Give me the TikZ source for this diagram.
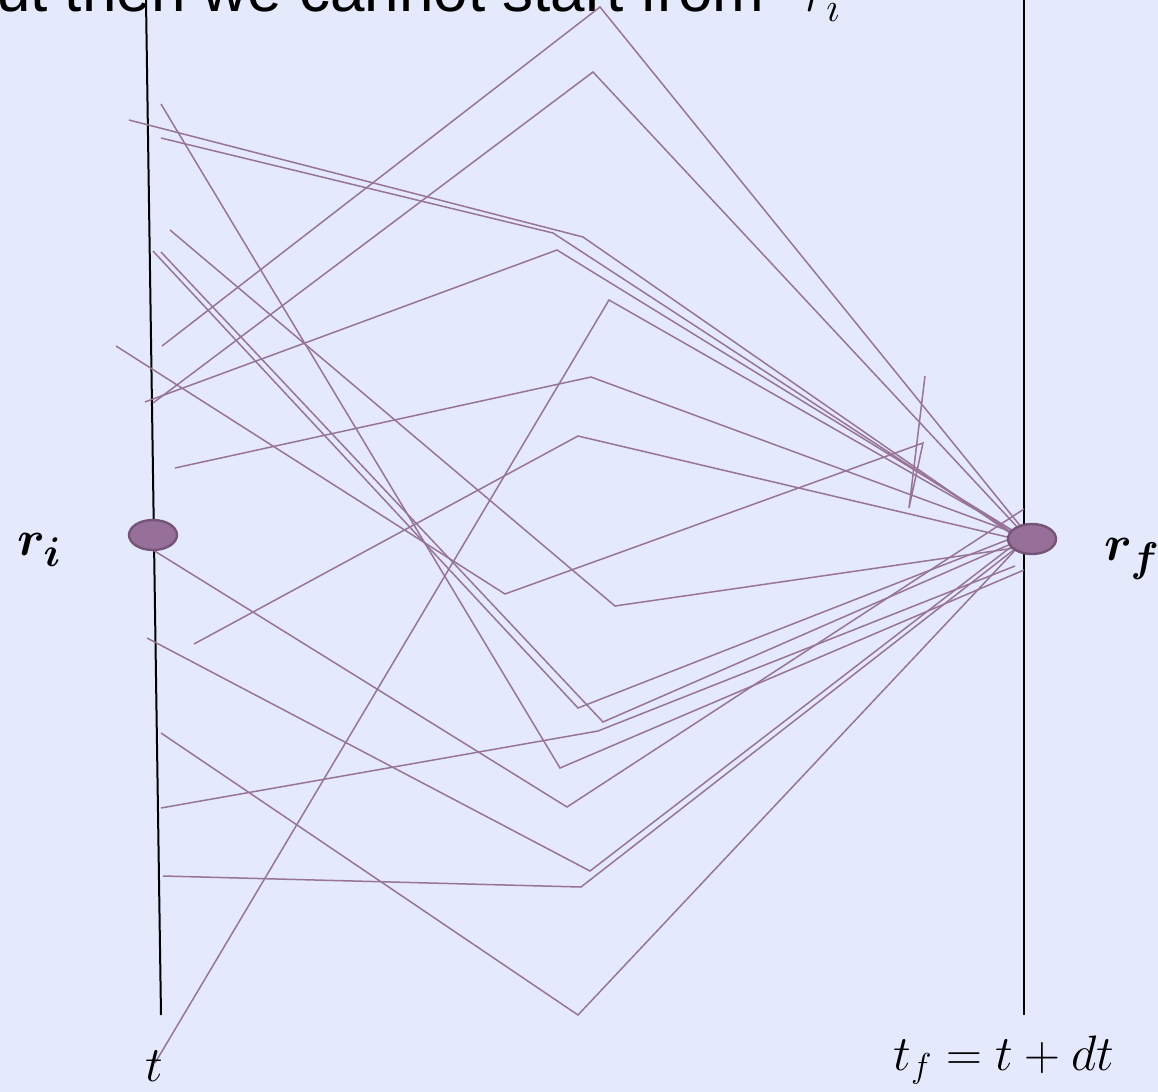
\documentclass[tikz,border=0pt]{standalone}
\usepackage{fontspec}
\usepackage{bm}
\newfontfamily\arialf{Liberation Sans}
\usetikzlibrary{shapes.geometric}
\definecolor{bgc}{RGB}{228,233,252}
\definecolor{pathc}{RGB}{152,116,152}
\definecolor{dotfill}{RGB}{150,112,152}
\definecolor{dotline}{RGB}{118,84,120}
\begin{document}
\begin{tikzpicture}[x=0.5pt,y=-0.5pt,
  pathline/.style={draw=pathc,line width=0.75pt},
  axisline/.style={draw=black,line width=1pt},
  dot/.style={ellipse,draw=dotline,fill=dotfill,line width=1.2pt,minimum width=24pt,minimum height=15pt,inner sep=0pt},
  lbl/.style={inner sep=0pt}]
\useasboundingbox (0,0) rectangle (1158,1092);
\clip (0,0) rectangle (1158,1092);
\fill[bgc] (0,0) rectangle (1158,1092);
% heading (cut off at the top, as in the reference)
\node[lbl,anchor=base east,font=\arialf\fontsize{31}{31}\selectfont] (head) at (765,11) {But then we cannot start from};
\node[lbl,anchor=base west,font=\fontsize{31}{31}\selectfont] (headr) at (804,11) {$r_i$};
% time axes
\coordinate (LT) at (146,0); \coordinate (LB) at (161,1015);
\coordinate (RT) at (1024,0); \coordinate (RB) at (1024,1015);
\draw[axisline] (LT) -- (LB);
\draw[axisline] (RT) -- (RB);
% paths
\coordinate (s1) at (162,346); \coordinate (m1) at (600,7); \coordinate (e1) at (1022,528);
\coordinate (s2) at (153,403); \coordinate (m2) at (593,72); \coordinate (e2) at (1020,530);
\coordinate (s3) at (145,402); \coordinate (m3) at (557,250); \coordinate (e3) at (1020,535);
\coordinate (s4) at (129,120); \coordinate (m4) at (583,237); \coordinate (e4) at (1020,540);
\coordinate (s5) at (161,138); \coordinate (m5) at (553,233); \coordinate (e5) at (1020,538);
\coordinate (s6) at (161,104); \coordinate (m6) at (560,768); \coordinate (e6) at (1024,570);
\coordinate (s7) at (170,230); \coordinate (m7) at (615,606); \coordinate (e7) at (1015,548);
\coordinate (s8) at (153,251); \coordinate (m8) at (578,708); \coordinate (e8) at (1020,535);
\coordinate (s9) at (161,252); \coordinate (m9) at (603,722); \coordinate (e9) at (1020,540);
\coordinate (s10) at (116,346); \coordinate (m10) at (505,594); \coordinate (k10) at (923,443); \coordinate (j10) at (909,508); \coordinate (e10) at (925,376);
\coordinate (s11) at (175,468); \coordinate (m11) at (591,377); \coordinate (e11) at (1020,535);
\coordinate (s12) at (194,644); \coordinate (m12) at (578,436); \coordinate (e12) at (1020,540);
\coordinate (s13) at (153,550); \coordinate (m13) at (567,807); \coordinate (e13) at (1024,509);
\coordinate (s14) at (147,638); \coordinate (m14) at (590,871); \coordinate (e14) at (1020,540);
\coordinate (s15) at (161,733); \coordinate (m15) at (578,1015); \coordinate (e15) at (1020,545);
\coordinate (s16) at (161,808); \coordinate (m16) at (598,731); \coordinate (e16) at (1015,566);
\coordinate (s17) at (163,876); \coordinate (m17) at (581,887); \coordinate (e17) at (1020,545);
\coordinate (s18) at (155,1063); \coordinate (m18) at (609,300); \coordinate (e18) at (1020,535);
\foreach \k in {1,2,3,4,5,6,7,8,9,11,12,13,14,15,16,17,18}{
  \draw[pathline] (s\k) -- (m\k) -- (e\k);
}
\draw[pathline] (s10) -- (m10) -- (k10) -- (j10) -- (e10);
% end points
\node[dot] (dri) at (153,535) {};
\node[dot] (drf) at (1032,539) {};
% labels
\node[lbl,anchor=base west,font=\fontsize{28}{28}\selectfont] (rilbl) at (17,555) {$\bm{r_i}$};
\node[lbl,anchor=base west,font=\fontsize{28}{28}\selectfont] (rflbl) at (1104,560) {$\bm{r_f}$};
\node[lbl,anchor=base west,font=\fontsize{24}{24}\selectfont] (tlbl) at (145,1081) {$t$};
\node[lbl,anchor=base west,font=\fontsize{25}{25}\selectfont] (tflbl) at (893,1070) {$t_f=t+dt$};
\end{tikzpicture}
\end{document}
